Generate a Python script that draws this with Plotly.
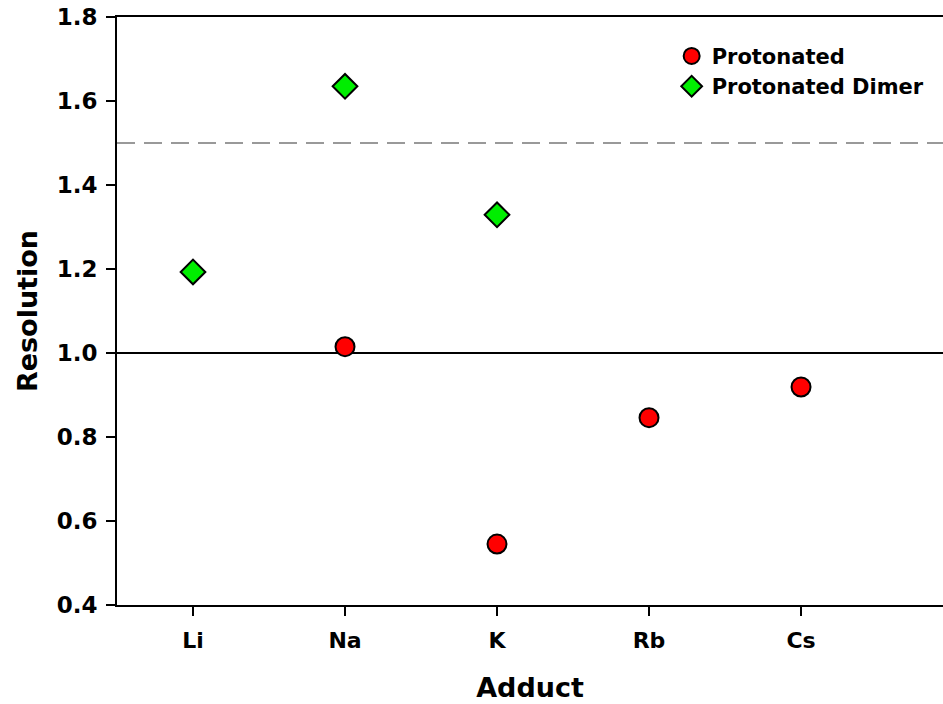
import plotly.graph_objects as go

adducts = ["Li", "Na", "K", "Rb", "Cs"]
adduct_pos = [1, 2, 3, 4, 5]

protonated_x = ["Na", "K", "Rb", "Cs"]
protonated_y = [1.015, 0.545, 0.846, 0.919]

dimer_x = ["Li", "Na", "K"]
dimer_y = [1.193, 1.635, 1.329]

y_ticks = [0.4, 0.6, 0.8, 1.0, 1.2, 1.4, 1.6, 1.8]
ref_solid = 1.0
ref_dashed = 1.5

pos = dict(zip(adducts, adduct_pos))
font_family = "DejaVu Sans, Verdana, sans-serif"

fig = go.Figure()
fig.add_trace(go.Scatter(
    x=[pos[a] for a in protonated_x], y=protonated_y, mode="markers",
    name="Protonated",
    marker=dict(symbol="circle", size=19, color="#ff0000",
                line=dict(color="black", width=2)),
))
fig.add_trace(go.Scatter(
    x=[pos[a] for a in dimer_x], y=dimer_y, mode="markers",
    name="Protonated Dimer",
    marker=dict(symbol="diamond", size=19, color="#00ee00",
                line=dict(color="black", width=2)),
))

fig.add_hline(y=ref_solid, line=dict(color="black", width=2), layer="below")
fig.add_hline(y=ref_dashed, line=dict(color="#999999", width=2, dash="18px,9px"), layer="below")

fig.update_layout(
    width=943, height=704,
    margin=dict(l=117, r=0, t=17, b=99),
    paper_bgcolor="white", plot_bgcolor="white",
    font=dict(family=font_family, color="black", size=20),
    showlegend=True,
    legend=dict(x=0.6715, y=0.968, xanchor="left", yanchor="top",
                bgcolor="rgba(0,0,0,0)", borderwidth=0,
                font=dict(family=font_family, size=21, color="black", weight="bold"),
                itemsizing="trace", tracegroupgap=0),
    xaxis=dict(
        range=[0.5, 5.934], tickmode="array", tickvals=adduct_pos, ticktext=adducts,
        showgrid=False, zeroline=False, showline=True, linecolor="black", linewidth=2,
        mirror=True, ticks="outside", ticklen=9, tickwidth=2, tickcolor="black",
        ticklabelstandoff=6,
        tickfont=dict(family=font_family, size=22, weight="bold"),
        title=dict(text="Adduct", font=dict(family=font_family, size=27, weight="bold"), standoff=26),
    ),
    yaxis=dict(
        range=[0.4, 1.8], tickmode="array", tickvals=y_ticks,
        ticktext=[f"{v:.1f}" for v in y_ticks],
        showgrid=False, zeroline=False, showline=True, linecolor="black", linewidth=2,
        ticks="outside", ticklen=9, tickwidth=2, tickcolor="black",
        ticklabelstandoff=4,
        tickfont=dict(family=font_family, size=23, weight="bold"),
        title=dict(text="Resolution", font=dict(family=font_family, size=27, weight="bold"), standoff=11),
    ),
)

fig.write_html(
    "out.html",
    config={"displayModeBar": False},
    post_script="document.body.style.margin='0';document.body.style.overflow='hidden';",
)
